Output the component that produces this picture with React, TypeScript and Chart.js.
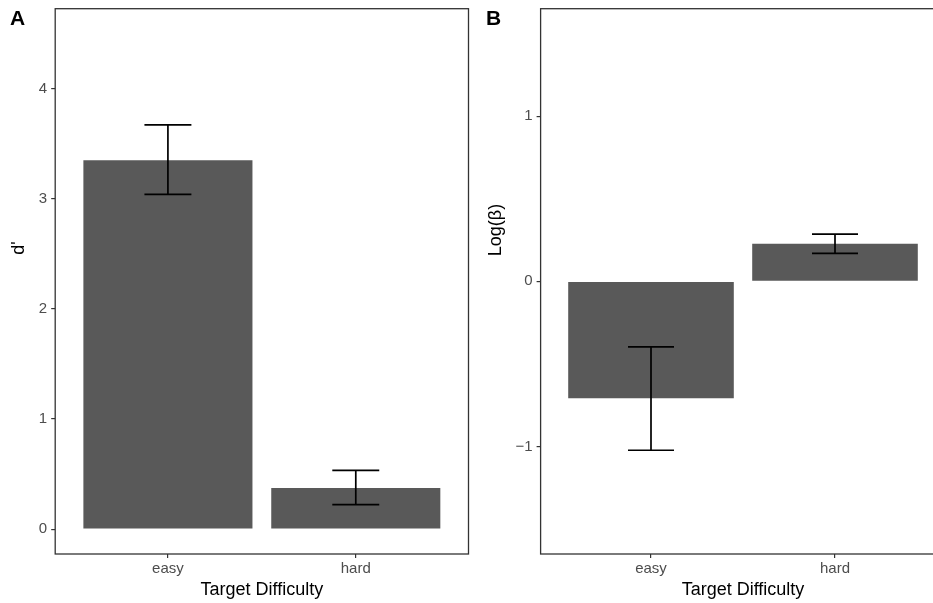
import React, { useEffect, useRef } from 'react';
import { Chart, registerables } from 'chart.js';

Chart.register(...registerables);

// ---- data ----
const CATEGORIES = ['easy', 'hard'];
const D_PRIME = [3.35, 0.375];
const D_PRIME_LOW = [3.04, 0.223];
const D_PRIME_HIGH = [3.67, 0.535];
const LOG_BETA = [-0.707, 0.228];
const LOG_BETA_LOW = [-1.022, 0.169];
const LOG_BETA_HIGH = [-0.397, 0.286];
const D_PRIME_TICKS = [0, 1, 2, 3, 4];
const LOG_BETA_TICKS = [-1, 0, 1];
const X_TITLE = 'Target Difficulty';

const FONT = "'Liberation Sans', Arial, Helvetica, sans-serif";

const errorBarPlugin = {
  id: 'errorBars',
  afterDatasetsDraw(chart: any, _args: any, opts: any) {
    const { ctx } = chart;
    const xs = chart.scales.x;
    const ys = chart.scales.y;
    const unit = xs.getPixelForValue(1) - xs.getPixelForValue(0);
    const hw = unit * 0.125;
    ctx.save();
    ctx.strokeStyle = '#000000';
    ctx.lineWidth = 1.7;
    (opts.low as number[]).forEach((lo, i) => {
      const hi = opts.high[i];
      const x = xs.getPixelForValue(i);
      const yl = ys.getPixelForValue(lo);
      const yh = ys.getPixelForValue(hi);
      ctx.beginPath();
      ctx.moveTo(x, yl);
      ctx.lineTo(x, yh);
      ctx.moveTo(x - hw, yl);
      ctx.lineTo(x + hw, yl);
      ctx.moveTo(x - hw, yh);
      ctx.lineTo(x + hw, yh);
      ctx.stroke();
    });
    ctx.restore();
  },
};

const panelBoxPlugin = {
  id: 'panelBox',
  afterDraw(chart: any) {
    const { ctx, chartArea } = chart;
    ctx.save();
    ctx.strokeStyle = '#333333';
    ctx.lineWidth = 1.3;
    ctx.strokeRect(chartArea.left, chartArea.top, chartArea.right - chartArea.left, chartArea.bottom - chartArea.top);
    ctx.restore();
  },
};

function makeConfig(
  values: number[],
  low: number[],
  high: number[],
  yTicks: number[],
  yMin: number,
  yMax: number,
  yWidth: number,
  padRight: number
): any {
  return {
    type: 'bar',
    data: {
      datasets: [
        {
          data: CATEGORIES.map((_, i) => ({ x: i, y: values[i] })),
          backgroundColor: '#595959',
          borderWidth: 0,
          barPercentage: 0.9,
          categoryPercentage: 1.0,
        },
      ],
    },
    options: {
      responsive: false,
      animation: false,
      devicePixelRatio: 1,
      layout: { padding: { left: 0, right: padRight, top: 8.7, bottom: 0 } },
      plugins: {
        legend: { display: false },
        tooltip: { enabled: false },
        title: { display: false },
        errorBars: { low, high },
      },
      scales: {
        x: {
          type: 'linear',
          min: -0.6,
          max: 1.6,
          offset: false,
          afterBuildTicks: (scale: any) => {
            scale.ticks = CATEGORIES.map((_, i) => ({ value: i }));
          },
          afterFit: (scale: any) => {
            scale.height = 49;
            scale.paddingLeft = 0;
            scale.paddingRight = 0;
          },
          border: { display: false },
          grid: {
            display: true,
            offset: false,
            drawOnChartArea: false,
            drawTicks: true,
            tickLength: 4,
            color: '#333333',
            lineWidth: 1.2,
          },
          ticks: {
            autoSkip: false,
            maxRotation: 0,
            padding: 2,
            color: '#4d4d4d',
            font: { family: FONT, size: 15 },
            callback: (v: any) => CATEGORIES[v] ?? '',
          },
          title: {
            display: true,
            text: X_TITLE,
            color: '#000000',
            font: { family: FONT, size: 18 },
            padding: { top: 0, bottom: 1.7 },
          },
        },
        y: {
          type: 'linear',
          min: yMin,
          max: yMax,
          afterBuildTicks: (scale: any) => {
            scale.ticks = yTicks.map((v) => ({ value: v }));
          },
          afterFit: (scale: any) => {
            scale.width = yWidth;
            scale.paddingTop = 0;
            scale.paddingBottom = 0;
          },
          border: { display: false },
          grid: {
            display: true,
            drawOnChartArea: false,
            drawTicks: true,
            tickLength: 4,
            color: '#333333',
            lineWidth: 1.2,
          },
          ticks: {
            autoSkip: false,
            padding: 4,
            color: '#4d4d4d',
            font: { family: FONT, size: 15 },
            callback: (v: any) => (v < 0 ? '\u2212' + Math.abs(v) : String(v)),
          },
        },
      },
    },
    plugins: [errorBarPlugin, panelBoxPlugin],
  };
}

function Panel({ left, width, config }: { left: number; width: number; config: any }) {
  const ref = useRef<HTMLCanvasElement | null>(null);
  useEffect(() => {
    if (!ref.current) return;
    const chart = new Chart(ref.current, config);
    return () => chart.destroy();
  }, []);
  return (
    <canvas
      ref={ref}
      width={width}
      height={603}
      style={{ position: 'absolute', left, top: 0, width, height: 603 }}
    />
  );
}

const letterStyle: React.CSSProperties = {
  position: 'absolute',
  top: 7,
  fontFamily: FONT,
  fontWeight: 'bold',
  fontSize: 21,
  lineHeight: 1,
  color: '#000',
};

const yTitleStyle: React.CSSProperties = {
  position: 'absolute',
  fontFamily: FONT,
  fontSize: 18,
  lineHeight: 1,
  color: '#000',
  whiteSpace: 'nowrap',
  transform: 'translate(-50%, -50%) rotate(-90deg)',
};

export default function App() {
  const cfgA = makeConfig(D_PRIME, D_PRIME_LOW, D_PRIME_HIGH, D_PRIME_TICKS, -0.225, 4.725, 55.2, 9.5);
  const cfgB = makeConfig(LOG_BETA, LOG_BETA_LOW, LOG_BETA_HIGH, LOG_BETA_TICKS, -1.65, 1.65, 62.6, 10.6);
  return (
    <div
      style={{
        position: 'fixed',
        left: 0,
        top: 0,
        width: 933,
        height: 603,
        overflow: 'hidden',
        background: '#ffffff',
      }}
    >
      <Panel left={0} width={478} config={cfgA} />
      <Panel left={478} width={478} config={cfgB} />
      <div style={{ ...letterStyle, left: 10 }}>A</div>
      <div style={{ ...letterStyle, left: 486 }}>B</div>
      <div style={{ ...yTitleStyle, left: 18, top: 247.5 }}>d'</div>
      <div style={{ ...yTitleStyle, left: 495, top: 230 }}>Log(β)</div>
    </div>
  );
}
